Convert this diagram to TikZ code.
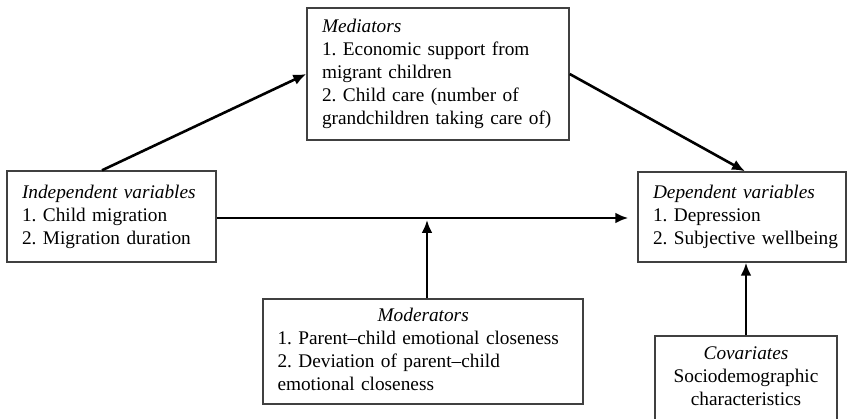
\documentclass[tikz,border=0pt]{standalone}
\usepackage{fontspec}
\setmainfont{Liberation Serif}
\usetikzlibrary{arrows.meta}
\frenchspacing
\begin{document}
\begin{tikzpicture}[x=1pt,y=-1pt,
  box/.style={draw=black!75, line width=1.4pt, rectangle, inner xsep=15pt, inner ysep=0pt,
    align=left, font=\fontsize{19.3}{23}\selectfont},
  conn/.style={line width=2.6pt, -{Latex[length=13pt,width=11pt]}}]
\useasboundingbox (0,0) rectangle (847,419);
\fill[white] (0,0) rectangle (847,419);
\node[box, minimum width=262pt, minimum height=132pt, text width=232pt] (med) at (438,74)
  {\begin{tabular}{@{}l@{}}\textit{Mediators}\\1. Economic support from\\migrant children\\2. Child care (number of\\grandchildren taking care of)\end{tabular}};
\node[box, minimum width=209pt, minimum height=91pt, text width=179pt] (ind) at (111.5,216.5)
  {\begin{tabular}{@{}l@{}}\textit{Independent variables}\\1. Child migration\\2. Migration duration\end{tabular}};
\node[box, minimum width=208pt, minimum height=90pt, text width=178pt] (dep) at (742,217)
  {\begin{tabular}{@{}l@{}}\textit{Dependent variables}\\1. Depression\\2. Subjective wellbeing\end{tabular}};
\node[box, minimum width=320pt, minimum height=105pt, text width=291pt, inner xsep=14.5pt] (mod) at (423,351.5)
  {\begin{tabular}{@{}l@{}}\multicolumn{1}{@{}c@{}}{\hspace{10pt}\textit{Moderators}}\\1. Parent–child emotional closeness\\2. Deviation of parent–child\\emotional closeness\end{tabular}};
\node[box, minimum width=182pt, minimum height=84pt, text width=160pt, inner xsep=11pt, align=center] (cov) at (746,378)
  {\begin{tabular}{@{}c@{}}\textit{Covariates}\\Sociodemographic\\characteristics\end{tabular}};
\draw[conn] ([xshift=-9.5pt]ind.north) -- (med.west);
\draw[conn] (med.east) -- ([xshift=3pt]dep.north);
\draw[conn, shorten >=9pt] ([yshift=-1.5pt]ind.east) -- ([yshift=-1pt]dep.west);
\coordinate (modtip) at ([xshift=4pt]mod.north |- 0,220);
\draw[conn] ([xshift=4pt]mod.north) -- (modtip);
\draw[conn] (cov.north) -- (cov.north |- dep.south);
\end{tikzpicture}
\end{document}
